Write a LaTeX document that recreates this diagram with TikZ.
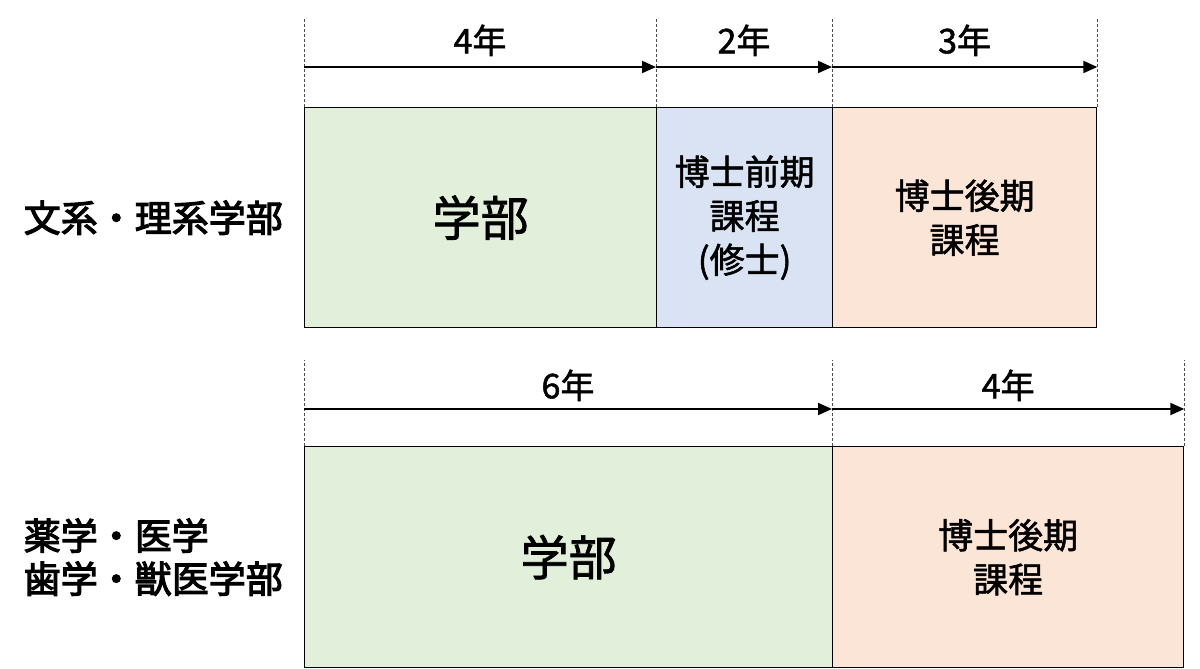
\documentclass[tikz,border=0pt]{standalone}
\usepackage{fontspec}
\setmainfont{Noto Sans CJK JP}[FakeBold=1.5]
\newfontfamily\facfont{Noto Sans CJK JP}[FakeBold=3]
\usetikzlibrary{arrows.meta,positioning}
\definecolor{grnfill}{HTML}{E2EFDA}
\definecolor{bluefill}{HTML}{DAE3F3}
\definecolor{peachfill}{HTML}{FBE5D6}
\tikzstyle{course}=[draw=black, line width=1.3pt, anchor=north west, inner sep=0pt,
               align=center, font=\fontsize{35}{44}\selectfont]
\tikzstyle{tick}=[dash pattern=on 3pt off 2pt, gray!60!black, line width=0.8pt]
\tikzstyle{span}=[-{Triangle[length=14pt,width=12pt]}, line width=2pt]
\tikzstyle{years}=[font=\fontsize{34}{36}\selectfont, inner sep=0pt]
\tikzstyle{faculty}=[font=\facfont\fontsize{37}{43}\selectfont, align=left, inner sep=0pt]

\begin{document}
\begin{tikzpicture}[x=1pt,y=-1pt]
\useasboundingbox (0,0) rectangle (1200,669);

% upper row
\node[course, fill=grnfill, minimum width=352pt, minimum height=220pt] at (304,107) (ugA)
  {\fontsize{48}{50}\selectfont 学部};
\node[course, fill=bluefill, minimum width=176pt, minimum height=220pt] at (656,107) (master)
  {博士前期\\課程\\(修士)};
\node[course, fill=peachfill, minimum width=264pt, minimum height=220pt] at (832,107) (doctorA)
  {博士後期\\課程};

\foreach \n in {ugA.north west, master.north west, doctorA.north west, doctorA.north east}
  \draw[tick] (\n) -- ++(0,-89);

\coordinate (a0) at ([yshift=40pt]ugA.north west);
\coordinate (a1) at ([yshift=40pt]master.north west);
\coordinate (a2) at ([yshift=40pt]doctorA.north west);
\coordinate (a3) at ([yshift=40pt]doctorA.north east);
\draw[span] (a0) -- node[years, above=10pt] (yA0) {4年} (a1);
\draw[span] (a1) -- node[years, above=10pt] (yA1) {2年} (a2);
\draw[span] (a2) -- node[years, above=10pt] (yA2) {3年} (a3);

\node[faculty, left=21pt of ugA.west] (humsci) {文系・理系学部};

% lower row
\node[course, fill=grnfill, minimum width=528pt, minimum height=221pt] at (304,446) (ugB)
  {\fontsize{48}{50}\selectfont 学部};
\node[course, fill=peachfill, minimum width=351pt, minimum height=221pt] at (832,446) (doctorB)
  {博士後期\\課程};

\foreach \n in {ugB.north west, doctorB.north west, doctorB.north east}
  \draw[tick] (\n) -- ++(0,-86);

\coordinate (b0) at ([yshift=37pt]ugB.north west);
\coordinate (b1) at ([yshift=37pt]doctorB.north west);
\coordinate (b2) at ([yshift=37pt]doctorB.north east);
\draw[span] (b0) -- node[years, above=7pt] (yB0) {6年} (b1);
\draw[span] (b1) -- node[years, above=7pt] (yB1) {4年} (b2);

\node[faculty, left=21pt of ugB.west] (medical) {薬学・医学\\歯学・獣医学部};
\end{tikzpicture}
\end{document}
